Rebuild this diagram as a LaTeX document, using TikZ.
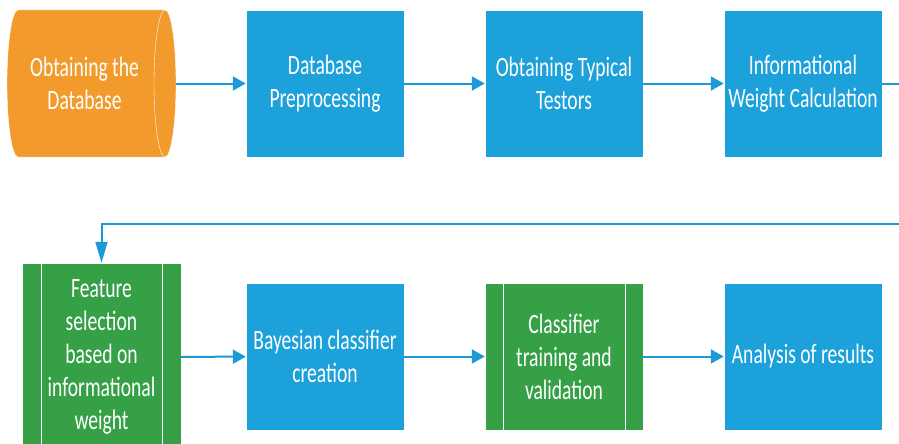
\documentclass[tikz,border=0pt]{standalone}
\usepackage{fontspec}
\setmainfont{Carlito}[FakeStretch=0.7]
\usetikzlibrary{arrows.meta}

\definecolor{stepblue}{HTML}{1DA1DB}
\definecolor{lineblue}{HTML}{1C9AD8}
\definecolor{dborange}{HTML}{F29A2B}
\definecolor{predgreen}{HTML}{36A047}

\tikzset{
  box/.style={rectangle, fill=stepblue, draw=white, thin, text=white,
    minimum width=158pt, minimum height=147pt, inner sep=0pt,
    align=center, font=\fontsize{28}{33}\selectfont},
  predef/.style={box, fill=predgreen},
  flow/.style={draw=lineblue, line width=2pt, -{Triangle[length=13pt,width=14pt]}},
}

\begin{document}
\begin{tikzpicture}[x=1pt, y=-1pt]
\useasboundingbox (0,0) rectangle (899,444);
\clip (0,0) rectangle (899,444);
    % the database drum
    \fill[dborange, draw=white, thin] (18, 10)
        arc[start angle=90, end angle=270, x radius=11pt, y radius=73.5pt]
        -- (165, 157)
        arc[start angle=270, end angle=450, x radius=11pt, y radius=73.5pt]
        -- cycle;
    \draw[white, thin] (165, 10)
        arc[start angle=90, end angle=270, x radius=11pt, y radius=73.5pt];

%%   kw   (name)   (x, y)   {text}
    \node[box, fill=none, draw=none, minimum width=155pt] (db) at (84.5, 83.5)
        {Obtaining the\\Database};
    \node[box] (prep) at (325, 83.5)   {Database\\Preprocessing};
    \node[box] (typ)  at (564, 83.5)   {Obtaining Typical\\Testors};
    \node[box] (wgt)  at (803, 83.5)   {Informational\\Weight Calculation};
    \node[predef, minimum width=159pt, minimum height=188pt] (feat) at (101.5, 357)
        {Feature\\selection\\based on\\informational\\weight};
    \node[box] (bayes) at (325, 356.5) {Bayesian classifier\\creation};
    \node[predef] (train) at (564, 356.5) {Classifier\\training and\\validation};
    \node[box] (res)   at (803, 356.5) {Analysis of results};

    \coordinate (turna) at (915, 83.5);
    \coordinate (turnb) at (915, 224);

    % side bars of the predefined steps
    \draw[white] ([xshift=19pt]feat.north west) -- ([xshift=19pt]feat.south west);
    \draw[white] ([xshift=-19pt]feat.north east) -- ([xshift=-19pt]feat.south east);
    \draw[white] ([xshift=18pt]train.north west) -- ([xshift=18pt]train.south west);
    \draw[white] ([xshift=-18pt]train.north east) -- ([xshift=-18pt]train.south east);

    \draw[flow, shorten <=14pt] (db) -- (prep);
    \draw[flow] (prep) -- (typ);
    \draw[flow] (typ) -- (wgt);
    \draw[flow, -{Triangle[length=21pt,width=12pt]}] (wgt) -- (turna) -- (turnb) -| (feat);
    \draw[flow] (feat) -- (bayes);
    \draw[flow] (bayes) -- (train);
    \draw[flow] (train) -- (res);
\end{tikzpicture}
\end{document}
